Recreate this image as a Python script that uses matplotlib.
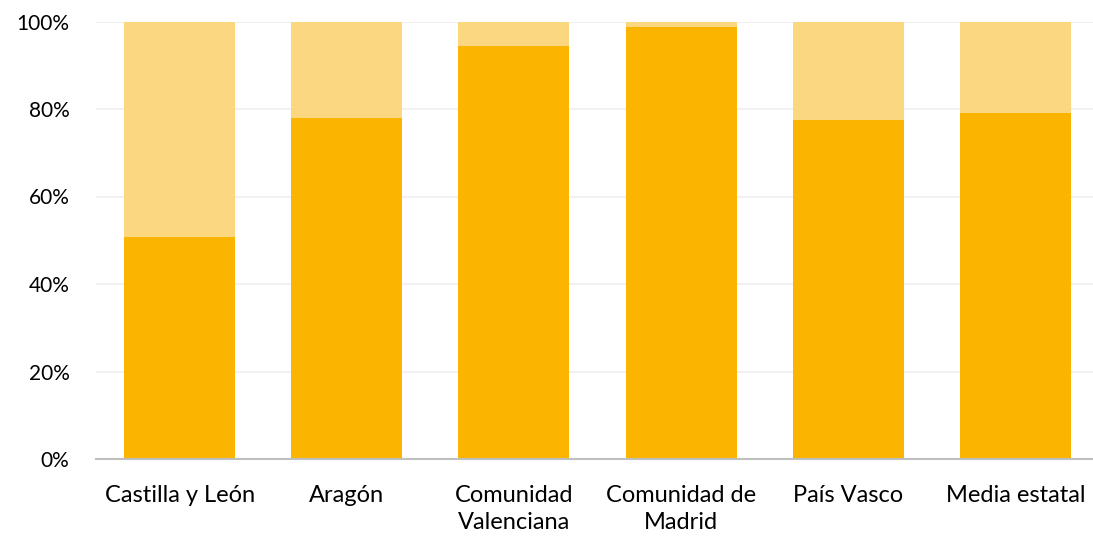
import matplotlib.pyplot as plt
import numpy as np

regiones = ['Castilla y León', 'Aragón', 'Comunidad\nValenciana', 'Comunidad de\nMadrid', 'País Vasco', 'Media estatal']
parte_a = [50.7, 77.9, 94.3, 98.8, 77.6, 79.0]
parte_b = [100 - v for v in parte_a]

plt.rcParams['font.family'] = ['Lato', 'DejaVu Sans']

fig = plt.figure(figsize=(10.93, 5.39), dpi=100)
ax = fig.add_axes([96 / 1093, 80 / 539, 1003 / 1093, 437.5 / 539])

x = np.arange(len(regiones))
ax.bar(x, parte_a, width=0.665, color='#FBB500', zorder=3)
ax.bar(x, parte_b, width=0.665, bottom=parte_a, color='#FBD880', zorder=3)

ax.set_xlim(-0.5, len(regiones) - 0.5)
ax.set_ylim(0, 100)
ax.set_yticks(range(0, 101, 20))
ax.set_yticklabels([f'{v}%' for v in range(0, 101, 20)])
ax.set_xticks(x)
ax.set_xticklabels(regiones, linespacing=1.35)
ax.yaxis.grid(True, color='#EFEFEF', linewidth=1.2, zorder=0)

for s in ['top', 'right', 'left']:
    ax.spines[s].set_visible(False)
ax.spines['bottom'].set_color('#BFBFBF')
ax.spines['bottom'].set_linewidth(1.5)
ax.spines['bottom'].set_zorder(4)
ax.tick_params(axis='both', length=0, colors='#000000')
ax.tick_params(axis='y', pad=19, labelsize=15)
ax.tick_params(axis='x', pad=19, labelsize=17)

fig.savefig('out.png', dpi=100)
